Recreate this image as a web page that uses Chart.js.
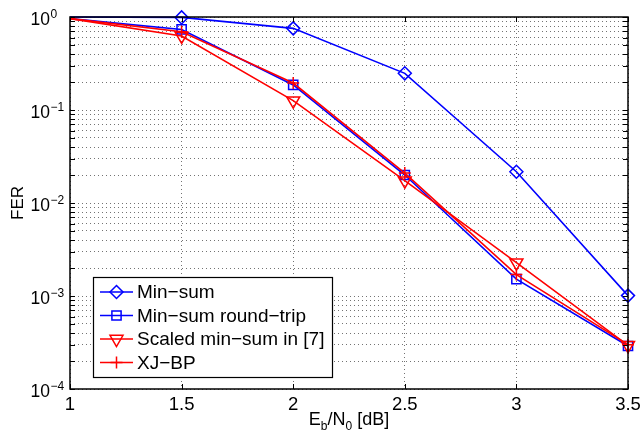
<!DOCTYPE html>
<html>
<head>
<meta charset="utf-8">
<script src="https://cdn.jsdelivr.net/npm/chart.js@4.4.0/dist/chart.umd.min.js"></script>
<style>
  html, body { margin: 0; padding: 0; background: #fff; }
</style>
</head>
<body>
<canvas id="ferChart" width="642" height="439"></canvas>
<script>
// Eb/N0 points [dB]
const ebn0 = [1, 1.5, 2, 2.5, 3, 3.5];
// FER for each decoder
const minSum = [1.0, 0.99, 0.755, 0.248, 0.0217, 0.00101];
const minSumRoundTrip = [0.96, 0.735, 0.186, 0.0200, 0.00152, 0.00029];
const scaledMinSum = [0.96, 0.625, 0.126, 0.0174, 0.00228, 0.000295];
const xjBp = [0.96, 0.695, 0.195, 0.0210, 0.0017, 0.0003];

const seriesNames = ['Min\u2212sum', 'Min\u2212sum round\u2212trip', 'Scaled min\u2212sum in [7]', 'XJ\u2212BP'];
const xTickLabels = [1, 1.5, 2, 2.5, 3, 3.5];
const yDecades = [0, -1, -2, -3, -4];

const FONT = '"Liberation Sans", Arial, Helvetica, sans-serif';
const BLUE = '#0000ff';
const RED = '#ff0000';

const toPoints = (ys) => ebn0.map((x, i) => ({ x: x, y: ys[i] }));
// no marker on the first sample (as in the figure)
const radii = (r) => ebn0.map((x, i) => (i === 0 ? 0 : r));

function makeSet(label, ys, color, style, r, rot, order) {
    return {
        label: label,
        data: toPoints(ys),
        borderColor: color,
        backgroundColor: 'rgba(0,0,0,0)',
        pointBorderColor: color,
        pointBackgroundColor: 'rgba(0,0,0,0)',
        borderWidth: 1.6,
        pointBorderWidth: 1.5,
        pointStyle: style,
        pointRadius: radii(r),
        pointRotation: rot,
        tension: 0,
        clip: false,
        order: order,
        legendRadius: r
    };
}

const datasets = [
    makeSet(seriesNames[0], minSum, BLUE, 'rectRot', 6.5, 0, 4),
    makeSet(seriesNames[1], minSumRoundTrip, BLUE, 'rect', 6.5, 0, 3),
    makeSet(seriesNames[2], scaledMinSum, RED, 'triangle', 7.5, 180, 2),
    makeSet(seriesNames[3], xjBp, RED, 'cross', 6, 0, 1)
];

const GRID = 'rgba(0,0,0,0.55)';

// frame, inward ticks, tick labels, axis titles and legend
const matlabAxes = {
    id: 'matlabAxes',
    afterDraw(chart) {
        const ctx = chart.ctx;
        const a = chart.chartArea;
        const xs = chart.scales.x;
        const ys = chart.scales.y;
        ctx.save();

        // tick marks
        ctx.strokeStyle = '#000';
        ctx.lineWidth = 1;
        const tl = 5;
        ctx.beginPath();
        ys.ticks.forEach(t => {
            const py = Math.round(ys.getPixelForValue(t.value)) + 0.5;
            ctx.moveTo(a.left, py); ctx.lineTo(a.left + tl, py);
            ctx.moveTo(a.right, py); ctx.lineTo(a.right - tl, py);
        });
        xTickLabels.forEach(v => {
            const px = Math.round(xs.getPixelForValue(v)) + 0.5;
            ctx.moveTo(px, a.bottom); ctx.lineTo(px, a.bottom - tl);
            ctx.moveTo(px, a.top); ctx.lineTo(px, a.top + tl);
        });
        ctx.stroke();

        // box
        ctx.lineWidth = 1.5;
        ctx.strokeRect(a.left, a.top, a.right - a.left, a.bottom - a.top);

        ctx.fillStyle = '#000';
        // x tick labels
        ctx.font = '18.5px ' + FONT;
        ctx.textAlign = 'center';
        ctx.textBaseline = 'alphabetic';
        xTickLabels.forEach(v => {
            ctx.fillText(String(v), xs.getPixelForValue(v), a.bottom + 21);
        });

        // y tick labels 10^n
        yDecades.forEach(d => {
            const py = ys.getPixelForValue(Math.pow(10, d));
            ctx.font = '17.5px ' + FONT;
            ctx.textAlign = 'right';
            ctx.fillText('10', 50, py + 8);
            ctx.font = '12px ' + FONT;
            ctx.textAlign = 'left';
            ctx.fillText(d < 0 ? '\u2212' + Math.abs(d) : String(d), 50.5, py + 1);
        });

        // x title  E_b/N_0 [dB]
        const parts = [['E', 18, 0], ['b', 12, 5], ['/N', 18, 0], ['0', 12, 5], [' [dB]', 18, 0]];
        let total = 0;
        parts.forEach(p => { ctx.font = p[1] + 'px ' + FONT; total += ctx.measureText(p[0]).width; });
        let cx = (a.left + a.right) / 2 - total / 2;
        ctx.textAlign = 'left';
        parts.forEach(p => {
            ctx.font = p[1] + 'px ' + FONT;
            ctx.fillText(p[0], cx, a.bottom + 36 + p[2]);
            cx += ctx.measureText(p[0]).width;
        });

        // y title
        ctx.save();
        ctx.translate(23, (a.top + a.bottom) / 2);
        ctx.rotate(-Math.PI / 2);
        ctx.font = '17px ' + FONT;
        ctx.textAlign = 'center';
        ctx.fillText('FER', 0, 0);
        ctx.restore();

        // legend
        const lx = 93, ly = 277, lw = 239, lh = 100;
        ctx.fillStyle = '#fff';
        ctx.fillRect(lx, ly, lw, lh);
        ctx.strokeStyle = '#000';
        ctx.lineWidth = 1.2;
        ctx.strokeRect(lx + 0.5, ly + 0.5, lw, lh);
        chart.data.datasets.forEach((ds, i) => {
            const ry = 292 + i * 23.5;
            ctx.strokeStyle = ds.borderColor;
            ctx.lineWidth = ds.borderWidth;
            ctx.beginPath();
            ctx.moveTo(lx + 7, ry); ctx.lineTo(lx + 40, ry);
            ctx.stroke();
            ctx.fillStyle = 'rgba(0,0,0,0)';
            ctx.lineWidth = ds.pointBorderWidth;
            Chart.helpers.drawPoint(ctx, {
                pointStyle: ds.pointStyle,
                rotation: ds.pointRotation,
                radius: ds.legendRadius,
                borderWidth: ds.pointBorderWidth
            }, lx + 23.5, ry);
            ctx.fillStyle = '#000';
            ctx.font = '19px ' + FONT;
            ctx.textAlign = 'left';
            ctx.textBaseline = 'middle';
            ctx.fillText(ds.label, lx + 44, ry + 1);
        });
        ctx.restore();
    }
};

new Chart(document.getElementById('ferChart').getContext('2d'), {
    type: 'line',
    data: { datasets: datasets },
    options: {
        responsive: false,
        animation: false,
        events: [],
        layout: { padding: { left: 70, top: 17, right: 14, bottom: 50 } },
        plugins: {
            legend: { display: false },
            title: { display: false },
            tooltip: { enabled: false }
        },
        scales: {
            x: {
                type: 'linear',
                min: 1,
                max: 3.5,
                ticks: { display: false, stepSize: 0.5 },
                grid: { color: GRID, lineWidth: 1, drawTicks: false },
                border: { display: false, dash: [1, 3] },
                afterFit: (s) => { s.height = 0; }
            },
            y: {
                type: 'logarithmic',
                min: 1e-4,
                max: 1,
                ticks: { display: false },
                grid: { color: GRID, lineWidth: 1, drawTicks: false },
                border: { display: false, dash: [1, 3] },
                afterFit: (s) => { s.width = 0; },
                // keep only 1..9 x 10^n grid lines
                afterBuildTicks: (s) => {
                    s.ticks = s.ticks.filter(t => {
                        const sig = t.value / Math.pow(10, Math.floor(Math.log10(t.value) + 1e-9));
                        return Math.abs(sig - Math.round(sig)) < 1e-6;
                    });
                }
            }
        }
    },
    plugins: [matlabAxes]
});
</script>
</body>
</html>
